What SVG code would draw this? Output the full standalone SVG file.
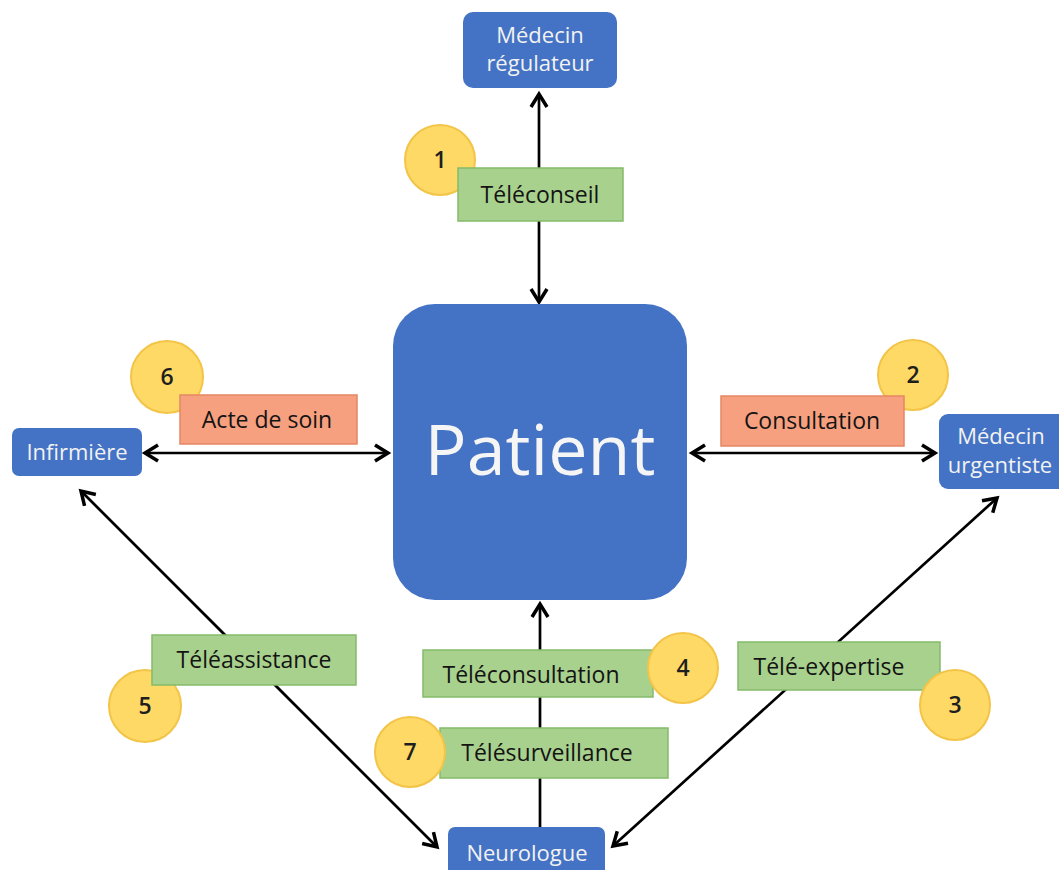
<svg xmlns="http://www.w3.org/2000/svg" width="1059" height="870" viewBox="0 0 1059 870">
<style>
.node{fill:#4472C4;}
.nt{fill:#F2F2F2;font-family:"Open Sans","Liberation Sans",sans-serif;font-size:22px;text-anchor:middle;}
.green{fill:#A9D18E;stroke:#84BA6A;stroke-width:1.5;}
.salmon{fill:#F6A07F;stroke:#E58664;stroke-width:1.5;}
.lt{fill:#141414;font-family:"Open Sans","Liberation Sans",sans-serif;font-size:23px;font-weight:500;text-anchor:middle;}
.circ{fill:#FFD966;stroke:#F2C447;stroke-width:2;}
.num{fill:#1E1E1E;font-family:"Open Sans","Liberation Sans",sans-serif;font-size:23px;font-weight:600;text-anchor:middle;}
.conn{stroke:#000;stroke-width:2.7;fill:none;}
</style>
<defs>
<marker id="arr" viewBox="-16 -10 20 20" markerWidth="20" markerHeight="20" refX="0" refY="0" orient="auto-start-reverse" markerUnits="userSpaceOnUse">
<path d="M-13,-8 L0,0 L-13,8" fill="none" stroke="#000" stroke-width="3.5" stroke-linejoin="miter"/>
</marker>
</defs>
<rect width="1059" height="870" fill="#FFFFFF"/>
<g id="connectors">
<line class="conn" x1="539" y1="94" x2="539" y2="302" marker-start="url(#arr)" marker-end="url(#arr)"/>
<line class="conn" x1="145" y1="453" x2="388" y2="453" marker-start="url(#arr)" marker-end="url(#arr)"/>
<line class="conn" x1="692" y1="453" x2="935" y2="453" marker-start="url(#arr)" marker-end="url(#arr)"/>
<line class="conn" x1="540" y1="827" x2="540" y2="604" marker-end="url(#arr)"/>
<line class="conn" x1="81" y1="491" x2="437" y2="847" marker-start="url(#arr)" marker-end="url(#arr)"/>
<line class="conn" x1="997" y1="498" x2="613" y2="846" marker-start="url(#arr)" marker-end="url(#arr)"/>
</g>
<g id="patient">
<rect class="node" x="393" y="304" width="294" height="296" rx="42"/>
<text x="540" y="475" fill="#F5F5F5" font-family="'Open Sans','Liberation Sans',sans-serif" font-size="70" text-anchor="middle">Patient</text>
</g>
<g id="medecin-regulateur">
<rect class="node" x="463" y="12" width="154" height="76" rx="10"/>
<text class="nt" x="540" y="43">Médecin</text>
<text class="nt" x="540" y="71">régulateur</text>
</g>
<g id="infirmiere">
<rect class="node" x="12" y="428" width="130" height="48" rx="7"/>
<text class="nt" x="77" y="460">Infirmière</text>
</g>
<g id="medecin-urgentiste">
<rect class="node" x="939" y="414" width="130" height="75" rx="9"/>
<text class="nt" x="1001" y="444">Médecin</text>
<text class="nt" x="1000" y="473">urgentiste</text>
</g>
<g id="neurologue">
<rect class="node" x="448" y="827" width="157" height="50" rx="7"/>
<text class="nt" x="527" y="861">Neurologue</text>
</g>
<g id="teleconseil">
<circle class="circ" cx="440" cy="160" r="35"/>
<text class="num" x="440" y="168">1</text>
<rect class="green" x="458" y="168" width="165" height="53"/>
<text class="lt" x="540" y="203">Téléconseil</text>
</g>
<g id="acte-de-soin">
<circle class="circ" cx="167" cy="377" r="36"/>
<text class="num" x="167" y="385">6</text>
<rect class="salmon" x="180" y="395" width="177" height="49"/>
<text class="lt" x="267" y="428">Acte de soin</text>
</g>
<g id="consultation">
<circle class="circ" cx="913" cy="375" r="35"/>
<text class="num" x="913" y="383">2</text>
<rect class="salmon" x="721" y="396" width="183" height="50"/>
<text class="lt" x="812" y="429">Consultation</text>
</g>
<g id="teleassistance">
<circle class="circ" cx="145" cy="706" r="36"/>
<text class="num" x="145" y="714">5</text>
<rect class="green" x="152" y="635" width="204" height="50"/>
<text class="lt" x="254" y="668">Téléassistance</text>
</g>
<g id="teleconsultation">
<rect class="green" x="423" y="650" width="230" height="47"/>
<text class="lt" x="531" y="683">Téléconsultation</text>
<circle class="circ" cx="683" cy="668" r="35"/>
<text class="num" x="683" y="676">4</text>
</g>
<g id="telesurveillance">
<rect class="green" x="440" y="728" width="228" height="50"/>
<text class="lt" x="547" y="761">Télésurveillance</text>
<circle class="circ" cx="410" cy="752" r="35"/>
<text class="num" x="410" y="760">7</text>
</g>
<g id="tele-expertise">
<rect class="green" x="738" y="642" width="202" height="48"/>
<text class="lt" x="829" y="675">Télé-expertise</text>
<circle class="circ" cx="955" cy="705" r="35"/>
<text class="num" x="955" y="713">3</text>
</g>
</svg>
